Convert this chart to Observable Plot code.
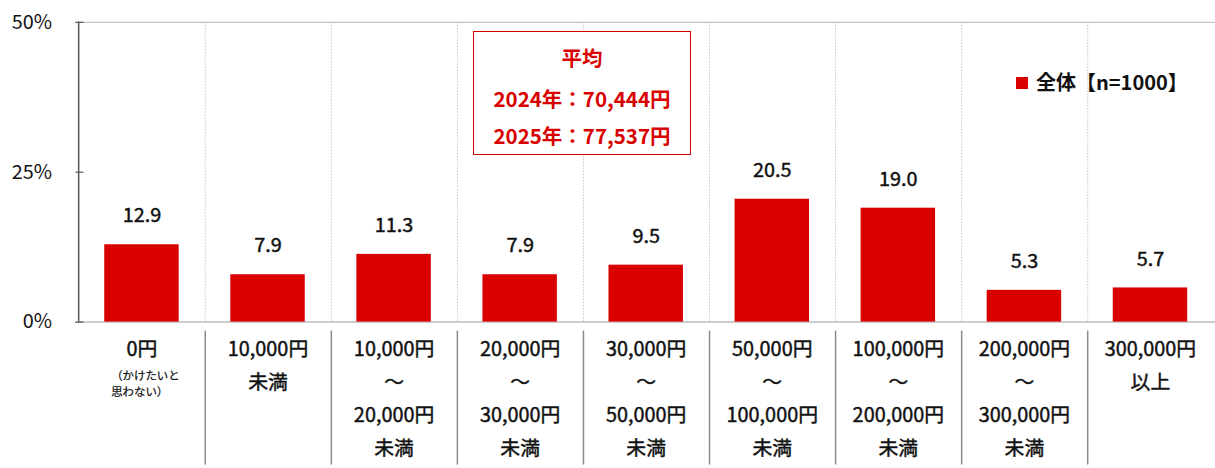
<!DOCTYPE html>
<html><head><meta charset="utf-8">
<script src="https://cdn.jsdelivr.net/npm/d3@7"></script>
<script src="https://cdn.jsdelivr.net/npm/@observablehq/plot@0.6"></script>
<style>
html,body{margin:0;padding:0;background:#fff;overflow:hidden}
#wrap{position:relative;width:1215px;height:468px;overflow:hidden;font-family:"Noto Sans CJK JP","Noto Sans",sans-serif}
#wrap svg{position:absolute;left:0;top:0;overflow:visible}
.box{position:absolute;left:473px;top:31px;width:216px;height:122px;border:1.6px solid #d90000;color:#d90000;font-weight:bold;font-size:20.5px;background:#fff}
.box div{position:absolute;left:0;right:0;text-align:center;line-height:1}
.legend{position:absolute;left:1016px;top:71px;font-size:20px;font-weight:bold;color:#111;white-space:nowrap;line-height:22px}
.legend span.sw{display:inline-block;width:12px;height:12px;background:#d90000;margin-right:8px;vertical-align:1px}
</style></head><body><div id="wrap"></div>
<script>
const categories = ["0円","10,000円未満","10,000円〜20,000円未満","20,000円〜30,000円未満","30,000円〜50,000円未満","50,000円〜100,000円未満","100,000円〜200,000円未満","200,000円〜300,000円未満","300,000円以上"];
const values = [12.9, 7.9, 11.3, 7.9, 9.5, 20.5, 19.0, 5.3, 5.7];
const labelLines = [
  ["0円"],
  ["10,000円","未満"],
  ["10,000円","～","20,000円","未満"],
  ["20,000円","～","30,000円","未満"],
  ["30,000円","～","50,000円","未満"],
  ["50,000円","～","100,000円","未満"],
  ["100,000円","～","200,000円","未満"],
  ["200,000円","～","300,000円","未満"],
  ["300,000円","以上"]
];
const noteLines = ["（かけたいと","思わない）"];
const yTicks = [0, 25, 50];
const legendLabel = "全体【n=1000】";
const boxLines = ["平均","2024年：70,444円","2025年：77,537円"];

const data = categories.map((c, i) => ({cat: c, value: values[i]}));
const W = 1224, H = 468, ML = 76, MT = 22, MB = 144;
const step = (W - ML) / categories.length;
const red = "#d90000";
const font = "Noto Sans CJK JP";
const ink = "#111";
const heavy = {fill: ink, stroke: ink, strokeWidth: 0.45, fontFamily: font};

const lineMarks = [0,1,2,3].map(li =>
  Plot.text(categories.map((c, i) => ({cat: c, t: labelLines[i][li]})).filter(d => d.t !== undefined), {
    x: "cat", y: () => 0, text: "t", dy: 28 + 33 * li, lineAnchor: "middle",
    fontSize: 20, ...heavy
  })
);

const chart = Plot.plot({
  width: W, height: H, marginLeft: ML, marginRight: 0, marginTop: MT, marginBottom: MB,
  style: {fontFamily: font, background: "transparent"},
  x: {domain: categories, paddingInner: 0.41, paddingOuter: 0.205, axis: null},
  y: {domain: [0, 50], range: [H - MB, MT], axis: null},
  marks: [
    Plot.ruleX(categories.slice(0, -1), {x: d => d, dx: step / 2, stroke: "#c8c8c8", strokeDasharray: "1.5,1.5"}),
    Plot.ruleY([50], {stroke: "#c4c4c4", strokeWidth: 1.2}),
    Plot.ruleY([0], {stroke: "#bdbdbd", strokeWidth: 1.5}),
    Plot.barY(data, {x: "cat", y: "value", fill: red}),
    Plot.ruleY(yTicks, {stroke: "#555", strokeWidth: 1.2, insetRight: W - ML - 8}),
    Plot.ruleX([0], {x: () => categories[0], dx: -step / 2, stroke: "#555", strokeWidth: 1.5}),
    Plot.ruleX(categories.slice(0, -1), {x: d => d, dx: step / 2, insetTop: (H - MB - MT) + 9, insetBottom: -MB, stroke: "#8a8a90", strokeWidth: 1.5}),
    Plot.axisY(yTicks, {label: null, tickSize: 0, tickPadding: 24, tickFormat: d => d + "%", fontSize: 20, ...heavy}),
    Plot.text(data, {x: "cat", y: "value", text: d => d.value.toFixed(1), dy: -29, lineAnchor: "middle", fontSize: 20, ...heavy}),
    ...lineMarks,
    Plot.text([noteLines.join("\n")], {x: () => categories[0], y: () => 0, text: d => d, dx: -31, dy: 61, textAnchor: "start", lineAnchor: "middle", lineHeight: 16/11.5, fontSize: 11.5, fill: ink, stroke: ink, strokeWidth: 0.25, fontFamily: font})
  ]
});
const wrap = document.getElementById("wrap");
wrap.appendChild(chart);

const box = document.createElement("div");
box.className = "box";
const tops = [15, 56, 93];
boxLines.forEach((t, i) => { const d = document.createElement("div"); d.textContent = t; d.style.top = tops[i] + "px"; box.appendChild(d); });
wrap.appendChild(box);

const leg = document.createElement("div");
leg.className = "legend";
leg.innerHTML = '<span class="sw"></span>';
leg.appendChild(document.createTextNode(legendLabel));
wrap.appendChild(leg);
</script></body></html>
